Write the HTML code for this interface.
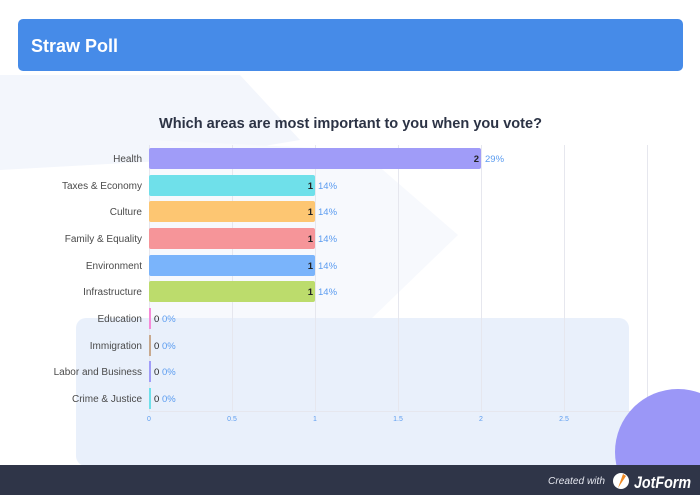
<!DOCTYPE html>
<html><head><meta charset="utf-8"><style>
html,body{margin:0;padding:0;background:#fff;}
svg{display:block;font-family:"Liberation Sans",sans-serif;}
</style></head><body>
<svg width="700" height="495" viewBox="0 0 700 495" xmlns="http://www.w3.org/2000/svg">
<rect width="700" height="495" fill="#fff"/>
<!-- faint background shapes -->
<polygon points="0,75 240,75 300,140 180,160 0,170" fill="#f3f6fc"/>
<polygon points="150,140 360,150 458,235 370,320 150,320" fill="#f7f9fd"/>
<rect x="76" y="318" width="553" height="148" rx="10" fill="#e9f0fb"/>
<!-- header -->
<rect x="18" y="19" width="665" height="52" rx="5" fill="#468be8"/>
<text x="31" y="52" font-size="18" font-weight="bold" fill="#fff" textLength="87" lengthAdjust="spacingAndGlyphs">Straw Poll</text>
<!-- title -->
<text x="159" y="128" font-size="15" font-weight="bold" fill="#2c3345" textLength="383" lengthAdjust="spacingAndGlyphs">Which areas are most important to you when you vote?</text>
<!-- grid -->
<g stroke="#e6e7ee" stroke-width="1">
<line x1="149.5" y1="145" x2="149.5" y2="411"/>
<line x1="232.5" y1="145" x2="232.5" y2="411"/>
<line x1="315.5" y1="145" x2="315.5" y2="411"/>
<line x1="398.5" y1="145" x2="398.5" y2="411"/>
<line x1="481.5" y1="145" x2="481.5" y2="411"/>
<line x1="564.5" y1="145" x2="564.5" y2="411"/>
<line x1="647.5" y1="145" x2="647.5" y2="411"/>
<line x1="149" y1="411.5" x2="647" y2="411.5"/>
</g>
<g font-size="7" fill="#5b9cf0" text-anchor="middle">
<text x="149" y="421">0</text>
<text x="232" y="421">0.5</text>
<text x="315" y="421">1</text>
<text x="398" y="421">1.5</text>
<text x="481" y="421">2</text>
<text x="564" y="421">2.5</text>
</g>
<!-- bars -->
<rect x="149" y="148" width="332" height="21" rx="2" fill="#a09cf8"/>
<rect x="149" y="175" width="166" height="21" rx="2" fill="#6fe0ea"/>
<rect x="149" y="201" width="166" height="21" rx="2" fill="#fdc672"/>
<rect x="149" y="228" width="166" height="21" rx="2" fill="#f69599"/>
<rect x="149" y="255" width="166" height="21" rx="2" fill="#7ab4fb"/>
<rect x="149" y="281" width="166" height="21" rx="2" fill="#bcdc6c"/>
<rect x="149" y="308" width="2" height="21" fill="#f68ad8"/>
<rect x="149" y="335" width="2" height="21" fill="#c8a98e"/>
<rect x="149" y="361" width="2" height="21" fill="#a09cf8"/>
<rect x="149" y="388" width="2" height="21" fill="#6fe0ea"/>
<!-- category labels -->
<g font-size="10" fill="#4a4a4a" text-anchor="end">
<text x="142" y="162">Health</text>
<text x="142" y="189">Taxes &amp; Economy</text>
<text x="142" y="215">Culture</text>
<text x="142" y="242">Family &amp; Equality</text>
<text x="142" y="269">Environment</text>
<text x="142" y="295">Infrastructure</text>
<text x="142" y="322">Education</text>
<text x="142" y="349">Immigration</text>
<text x="142" y="375">Labor and Business</text>
<text x="142" y="402">Crime &amp; Justice</text>
</g>
<!-- values -->
<g font-size="9.5" font-weight="bold" fill="#222" text-anchor="end">
<text x="479" y="162">2</text>
<text x="313" y="189">1</text>
<text x="313" y="215">1</text>
<text x="313" y="242">1</text>
<text x="313" y="269">1</text>
<text x="313" y="295">1</text>
</g>
<g font-size="9.5" fill="#5b9cf0">
<text x="485" y="162">29%</text>
<text x="318" y="189">14%</text>
<text x="318" y="215">14%</text>
<text x="318" y="242">14%</text>
<text x="318" y="269">14%</text>
<text x="318" y="295">14%</text>
</g>
<g font-size="9.5">
<text x="154" y="322" fill="#222">0</text><text x="162" y="322" fill="#5b9cf0">0%</text>
<text x="154" y="349" fill="#222">0</text><text x="162" y="349" fill="#5b9cf0">0%</text>
<text x="154" y="375" fill="#222">0</text><text x="162" y="375" fill="#5b9cf0">0%</text>
<text x="154" y="402" fill="#222">0</text><text x="162" y="402" fill="#5b9cf0">0%</text>
</g>
<!-- purple circle -->
<circle cx="678" cy="452" r="63" fill="#9b97f7"/>
<!-- footer -->
<rect x="0" y="465" width="700" height="30" fill="#2f3548"/>
<text x="548" y="484" font-size="10" font-style="italic" fill="#e4e6ee" textLength="57" lengthAdjust="spacingAndGlyphs">Created with</text>
<circle cx="621" cy="481" r="8" fill="#fff"/>
<path d="M618 488 L623 474 L626 476 Z" fill="#f08a24"/>
<text x="634" y="488" font-size="17" font-weight="bold" font-style="italic" fill="#fff" textLength="57" lengthAdjust="spacingAndGlyphs">JotForm</text>
</svg>
</body></html>
